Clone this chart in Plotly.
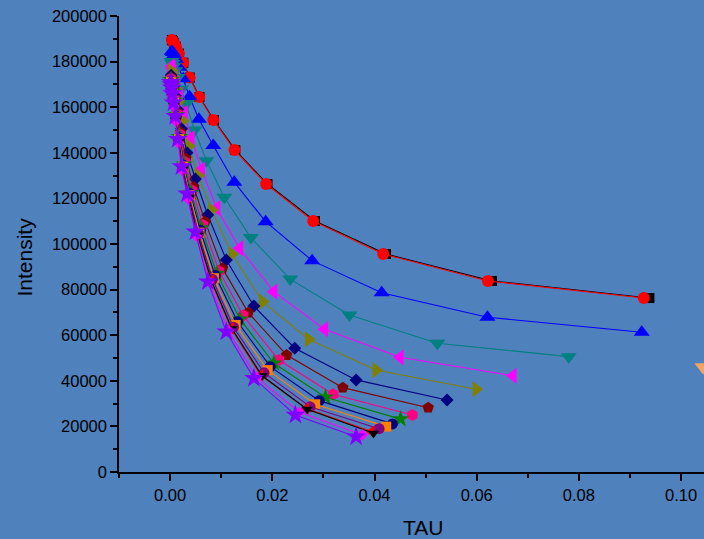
import plotly.graph_objects as go

# ---- data ----
TAU_BLACK = [0.00035, 0.00053, 0.00078, 0.00116, 0.00174, 0.00259, 0.00386, 0.00575, 0.00858, 0.01276, 0.01905, 0.02835, 0.04225, 0.0630, 0.0938]
INT_BLACK = [189500, 189000, 188000, 186500, 183500, 179500, 173000, 164500, 154400, 141200, 126300, 110100, 95600, 83800, 76300]

TAU_RED = [0.00035, 0.00052, 0.00077, 0.00115, 0.00172, 0.00256, 0.00381, 0.00568, 0.00847, 0.0126, 0.0188, 0.0280, 0.0417, 0.0622, 0.0927]
INT_RED = [189500, 189000, 188000, 186500, 183500, 179500, 173000, 164500, 154400, 141200, 126300, 110100, 95600, 83800, 76300]

TAU_BLUE = [0.00035, 0.00052, 0.00077, 0.00115, 0.00172, 0.00256, 0.0038, 0.00564, 0.00845, 0.01256, 0.0187, 0.0278, 0.0414, 0.0621, 0.0923]
INT_BLUE = [184500, 184000, 183000, 181000, 177500, 172500, 164600, 154700, 143200, 127100, 109800, 92700, 78600, 67900, 61300]

TAU_TEAL = [0.00029, 0.00044, 0.00065, 0.00097, 0.00145, 0.00215, 0.0032, 0.00478, 0.00712, 0.0106, 0.0158, 0.0235, 0.0351, 0.0523, 0.078]
INT_TEAL = [180000, 179200, 178000, 176000, 173000, 168000, 161500, 150000, 136500, 120500, 102800, 84600, 68900, 56500, 50600]

TAU_MAG = [0.00025, 0.00038, 0.00056, 0.00083, 0.00125, 0.00185, 0.00276, 0.00411, 0.00613, 0.00912, 0.0136, 0.0203, 0.0302, 0.0450, 0.0671]
INT_MAG = [178000, 177000, 175500, 173500, 170500, 165500, 157500, 146500, 132800, 115700, 98100, 79100, 62600, 50300, 42200]

TAU_OLIVE = [0.00023, 0.00034, 0.0005, 0.00074, 0.00111, 0.00165, 0.00246, 0.00367, 0.00547, 0.00814, 0.0121, 0.0181, 0.0271, 0.0403, 0.0599]
INT_OLIVE = [176000, 175000, 173500, 171500, 168000, 162500, 154000, 143000, 130000, 114900, 95600, 74700, 58200, 44700, 36300]

TAU_NAVYD = [0.0002, 0.0003, 0.00045, 0.00067, 0.00101, 0.0015, 0.00223, 0.00332, 0.00495, 0.00737, 0.011, 0.0164, 0.0244, 0.0364, 0.0542]
INT_NAVYD = [174000, 173000, 171500, 169000, 165000, 159000, 150500, 140000, 128500, 112700, 93000, 72800, 54300, 40400, 31600]

TAU_WINE = [0.00019, 0.00028, 0.00042, 0.00063, 0.00094, 0.0014, 0.00208, 0.0031, 0.00462, 0.00687, 0.01025, 0.0153, 0.0228, 0.0338, 0.0505]
INT_WINE = [173000, 172000, 170500, 168000, 164000, 158000, 149000, 137500, 125000, 109800, 89300, 69900, 51300, 37000, 28200]

TAU_PINK = [0.00018, 0.00027, 0.00039, 0.00059, 0.00088, 0.00131, 0.00195, 0.0029, 0.00433, 0.00644, 0.0096, 0.0143, 0.0213, 0.0319, 0.0474]
INT_PINK = [172500, 171500, 170000, 167500, 163500, 157000, 148000, 136000, 123500, 108300, 88000, 68600, 49100, 34100, 25000]

TAU_GREEN = [0.00017, 0.00025, 0.00037, 0.00056, 0.00084, 0.00125, 0.00185, 0.00276, 0.00412, 0.00613, 0.00915, 0.0137, 0.0203, 0.0304, 0.0451]
INT_GREEN = [172000, 171000, 169500, 167000, 163000, 156500, 147000, 135000, 122500, 107000, 87000, 67000, 47700, 32800, 23200]

TAU_NAVYC = [0.00016, 0.00024, 0.00036, 0.00054, 0.00081, 0.0012, 0.00179, 0.00267, 0.00397, 0.00591, 0.00882, 0.0132, 0.0196, 0.0292, 0.0435]
INT_NAVYC = [171500, 170500, 169000, 166500, 162500, 156000, 146500, 134500, 122000, 106000, 86200, 65900, 46200, 31300, 21100]

TAU_ORANGE = [0.00016, 0.00024, 0.00035, 0.00052, 0.00078, 0.00117, 0.00174, 0.00259, 0.00386, 0.00575, 0.00858, 0.01283, 0.0191, 0.0284, 0.0423]
INT_ORANGE = [171000, 170000, 168500, 166000, 162000, 155500, 146000, 134000, 121500, 105000, 85000, 64500, 44700, 29700, 19900]

TAU_PURPLE = [0.00015, 0.00023, 0.00034, 0.00051, 0.00076, 0.00113, 0.00168, 0.0025, 0.00373, 0.00556, 0.0083, 0.0124, 0.0184, 0.0274, 0.0409]
INT_PURPLE = [170500, 169500, 168000, 165500, 161500, 155000, 145500, 133500, 121000, 104500, 84500, 63500, 43500, 28600, 19000]

TAU_REDT = [0.00015, 0.00022, 0.00033, 0.00049, 0.00073, 0.00109, 0.00162, 0.00241, 0.0036, 0.00536, 0.008, 0.0119, 0.0177, 0.0266, 0.0394]
INT_REDT = [170000, 169000, 167500, 165000, 161000, 154500, 145000, 133000, 120500, 104000, 84000, 63000, 42500, 27900, 17700]

TAU_BLACKT = [0.00015, 0.00022, 0.00033, 0.0005, 0.00074, 0.0011, 0.00164, 0.00244, 0.00364, 0.00542, 0.0081, 0.0121, 0.018, 0.0268, 0.0398]
INT_BLACKT = [169800, 168800, 167300, 164800, 160800, 154300, 144800, 132800, 120300, 103800, 83800, 62800, 42200, 27500, 17000]

TAU_MAG2 = [0.00014, 0.00021, 0.00031, 0.00047, 0.0007, 0.00104, 0.00155, 0.0023, 0.00343, 0.0051, 0.0076, 0.0114, 0.0169, 0.0253, 0.0376]
INT_MAG2 = [169500, 168500, 167000, 164500, 160500, 154000, 144500, 132500, 120000, 103500, 83500, 62000, 41500, 26200, 16300]

TAU_VIOLET = [0.00014, 0.0002, 0.0003, 0.00045, 0.00068, 0.00101, 0.0015, 0.00223, 0.00333, 0.00495, 0.00739, 0.011, 0.0164, 0.0245, 0.0364]
INT_VIOLET = [171000, 170000, 168500, 166000, 162000, 156000, 146000, 134000, 122000, 105400, 83500, 61500, 41100, 25000, 15500]

TAU_LONE = [0.1043]
INT_LONE = [46000]

X_TICKS = [0.00, 0.02, 0.04, 0.06, 0.08, 0.10]
X_TICK_LABELS = ["0.00", "0.02", "0.04", "0.06", "0.08", "0.10"]
Y_TICKS = [0, 20000, 40000, 60000, 80000, 100000, 120000, 140000, 160000, 180000, 200000]
Y_TICK_LABELS = [str(v) for v in Y_TICKS]

series = [
    (TAU_BLACK, INT_BLACK, "#000000", "square", 10),
    (TAU_RED, INT_RED, "#FF0000", "circle", 12),
    (TAU_BLUE, INT_BLUE, "#0000FF", "triangle-up", 14),
    (TAU_TEAL, INT_TEAL, "#008080", "triangle-down", 14),
    (TAU_MAG, INT_MAG, "#FF00FF", "triangle-left", 14),
    (TAU_OLIVE, INT_OLIVE, "#808000", "triangle-right", 14),
    (TAU_NAVYD, INT_NAVYD, "#000080", "diamond", 10),
    (TAU_WINE, INT_WINE, "#800000", "pentagon", 12),
    (TAU_PINK, INT_PINK, "#FF0080", "hexagon", 12),
    (TAU_GREEN, INT_GREEN, "#008000", "star", 13),
    (TAU_NAVYC, INT_NAVYC, "#000080", "circle", 11),
    (TAU_ORANGE, INT_ORANGE, "#FF8000", "square", 10),
    (TAU_PURPLE, INT_PURPLE, "#800080", "circle", 11),
    (TAU_REDT, INT_REDT, "#FF0000", "triangle-left", 11),
    (TAU_BLACKT, INT_BLACKT, "#000000", "triangle-down", 10),
    (TAU_MAG2, INT_MAG2, "#FF00FF", "diamond", 9),
    (TAU_VIOLET, INT_VIOLET, "#8000FF", "star", 15),
]

fig = go.Figure()
for xs, ys, col, sym, sz in series:
    fig.add_trace(go.Scatter(
        x=xs, y=ys, mode="lines+markers",
        line=dict(color=col, width=1.1),
        marker=dict(color=col, symbol=sym, size=sz, line=dict(width=0)),
        showlegend=False,
    ))
fig.add_trace(go.Scatter(
    x=TAU_LONE, y=INT_LONE, mode="markers",
    marker=dict(color="#F4A460", symbol="triangle-down", size=15, line=dict(width=0)),
    showlegend=False,
))

BG = "#4F81BD"
FONT = "Liberation Sans, Arial, sans-serif"
L, R, T, B = 119, 0, 16, 67
W, H = 704, 539
pw, ph = W - L - R, H - T - B

fig.update_layout(
    width=W, height=H,
    margin=dict(l=L, r=R, t=T, b=B, pad=0),
    paper_bgcolor=BG, plot_bgcolor=BG,
    font=dict(family=FONT, color="#000000", size=16),
    showlegend=False,
)
fig.update_xaxes(
    range=[-0.01, -0.01 + pw / 5110.0],
    tickvals=X_TICKS, ticktext=X_TICK_LABELS,
    ticks="outside", ticklen=7, tickwidth=1.5, tickcolor="#000000",
    showline=True, linecolor="#000000", linewidth=1.5,
    showgrid=False, zeroline=False,
    tickfont=dict(family=FONT, size=16.5, color="#000000"),
    minor=dict(ticks="outside", ticklen=4, tickwidth=1.5, tickcolor="#000000", dtick=0.01, tick0=0, showgrid=False),
)
fig.update_yaxes(
    range=[0, 200000],
    tickvals=Y_TICKS, ticktext=Y_TICK_LABELS,
    ticks="outside", ticklen=7, tickwidth=1.5, tickcolor="#000000",
    showline=True, linecolor="#000000", linewidth=1.5,
    showgrid=False, zeroline=False,
    tickfont=dict(family=FONT, size=16.5, color="#000000"),
    minor=dict(ticks="outside", ticklen=4, tickwidth=1.5, tickcolor="#000000", dtick=10000, tick0=0, showgrid=False),
)

fig.add_annotation(
    text="Intensity", xref="paper", yref="paper",
    x=(24 - L) / pw, y=(H - B - 257.5) / ph, textangle=-90,
    showarrow=False, xanchor="center", yanchor="middle",
    font=dict(family=FONT, size=21, color="#000000"),
)
fig.add_annotation(
    text="TAU", xref="paper", yref="paper",
    x=(423 - L) / pw, y=(H - B - 527) / ph,
    showarrow=False, xanchor="center", yanchor="middle",
    font=dict(family=FONT, size=21, color="#000000"),
)

fig.write_html("out.html")
